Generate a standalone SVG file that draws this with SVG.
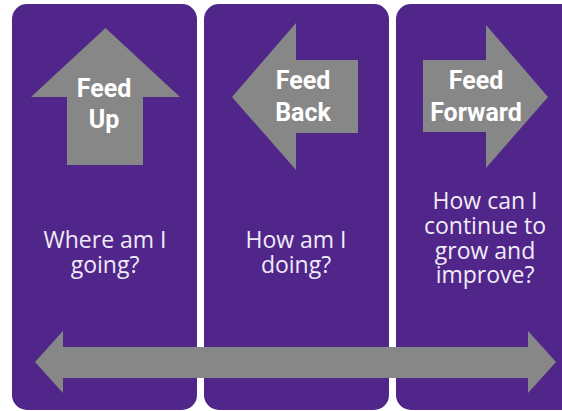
<svg xmlns="http://www.w3.org/2000/svg" width="562" height="411" viewBox="0 0 562 411">
  <style>
    .panel { fill: #50268a; }
    .arrow { fill: #878787; }
    .label { font-family: Roboto, "Liberation Sans", sans-serif; font-weight: bold; font-size: 25px; fill: #ffffff; text-anchor: middle; }
    .q { font-family: "Open Sans", "Liberation Sans", sans-serif; font-size: 23px; fill: #f1ebf7; text-anchor: middle; }
  </style>
  <rect width="562" height="411" fill="#ffffff"/>
  <g id="panel-feed-up">
    <rect class="panel" x="12" y="4" width="185" height="406" rx="15"/>
    <polygon class="arrow" points="105.5,28 180,97 143,97 143,165 67,165 67,97 31,97"/>
    <text class="label" x="104" y="97">Feed</text>
    <text class="label" x="104" y="128">Up</text>
    <text class="q" x="105" y="248">Where am I</text>
    <text class="q" x="105" y="273">going?</text>
  </g>
  <g id="panel-feed-back">
    <rect class="panel" x="204" y="4" width="185" height="406" rx="15"/>
    <polygon class="arrow" points="232,97 296,23 296,60 358,60 358,133 296,133 296,170"/>
    <text class="label" x="303" y="89">Feed</text>
    <text class="label" x="303" y="121">Back</text>
    <text class="q" x="296" y="248">How am I</text>
    <text class="q" x="296" y="273">doing?</text>
  </g>
  <g id="panel-feed-forward">
    <rect class="panel" x="396" y="4" width="185" height="406" rx="15"/>
    <polygon class="arrow" points="548,97 486,168 486,132 423,132 423,60 486,60 486,25"/>
    <text class="label" x="476" y="89">Feed</text>
    <text class="label" x="476" y="121">Forward</text>
    <text class="q" x="485" y="209">How can I</text>
    <text class="q" x="485" y="234">continue to</text>
    <text class="q" x="485" y="259">grow and</text>
    <text class="q" x="485" y="283">improve?</text>
  </g>
  <g id="connectors">
    <polygon class="arrow" points="35,362 63,331 63,347 528,347 528,331 556,362 528,393 528,378 63,378 63,393"/>
  </g>
</svg>
